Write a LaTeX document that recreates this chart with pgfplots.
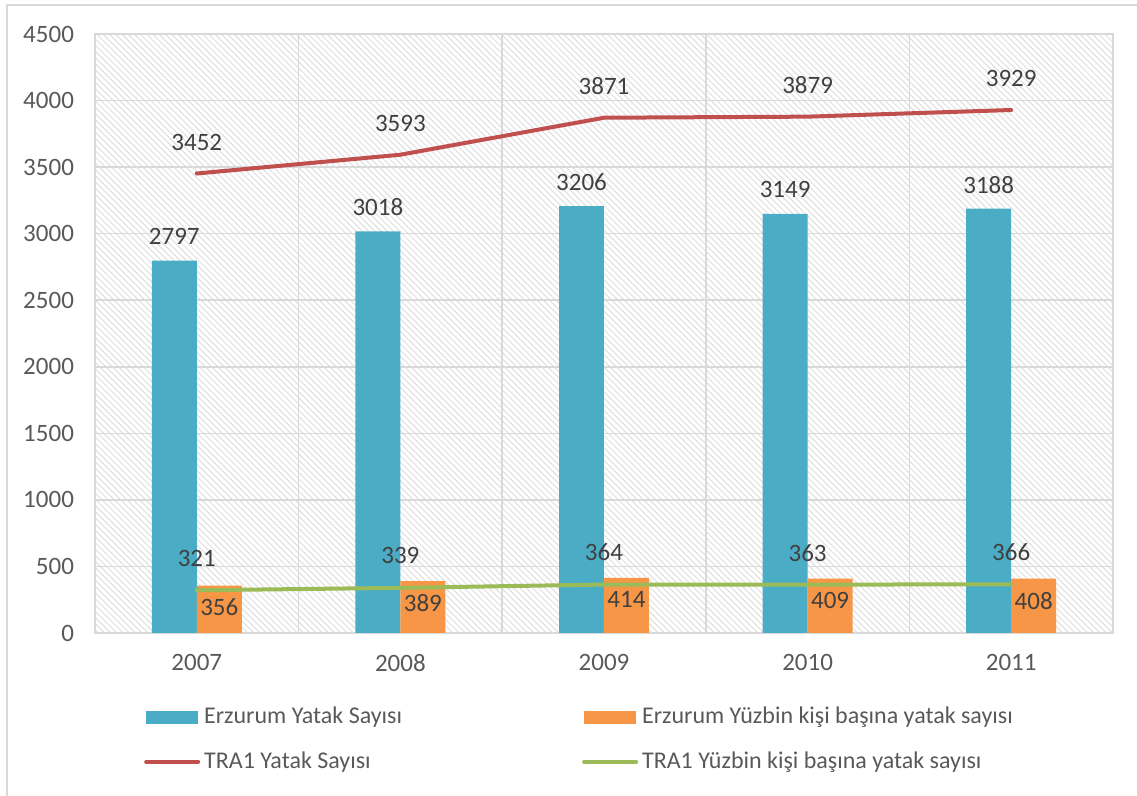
\documentclass[border=0pt]{standalone}
\usepackage{fontspec}
\setmainfont{Carlito}
\usepackage{pgfplots}
\pgfplotsset{compat=1.18}
\usetikzlibrary{patterns.meta}
\definecolor{barA}{HTML}{4BACC6}
\definecolor{barB}{HTML}{F79646}
\definecolor{lineR}{HTML}{C0504D}
\definecolor{lineG}{HTML}{9BBB59}
\definecolor{gridc}{HTML}{D9D9D9}
\definecolor{tickc}{HTML}{595959}
\definecolor{labc}{HTML}{404040}
\pgfkeys{/pgf/number format/.cd, 1000 sep={}, assume math mode=true}
\begin{document}
\begin{tikzpicture}
\useasboundingbox (0,0) rectangle (568.5pt,398pt);
\draw[gridc, line width=1pt] (3.5pt,0pt) -- (3.5pt,395.5pt) -- (568.5pt,395.5pt);
\begin{axis}[
  at={(47.5pt,81.5pt)}, anchor=south west,
  scale only axis, width=509pt, height=299.5pt,
  xmin=-0.5, xmax=4.5, ymin=0, ymax=4500,
  xtick={0,1,2,3,4}, xticklabels={2007,2008,2009,2010,2011},
  x tick style={draw=none},
  extra x ticks={-0.5,0.5,1.5,2.5,3.5,4.5}, extra x tick labels={},
  extra x tick style={grid=major, major tick length=4pt, tick align=outside, tick style={draw=gridc, line width=0.75pt}},
  ytick={0,500,...,4500}, ymajorgrids,
  y tick style={draw=none},
  grid style={gridc, line width=0.75pt},
  axis line style={gridc, line width=0.75pt},
  tick label style={font=\fontsize{12.5}{15}\selectfont, color=tickc},
  yticklabel style={xshift=-7pt},
  xticklabel style={yshift=-7pt},
  axis background/.style={pattern={Lines[angle=-45,distance=2.2pt,line width=0.5pt]}, pattern color=black!13},
  legend columns=2,
  legend cell align=left,
  legend style={at={(axis description cs:0.042,-0.110)}, anchor=north west, draw=none, fill=none,
    font=\fontsize{12}{14}\selectfont, text=tickc, row sep=8.5pt,
    /tikz/column 2/.style={column sep=88pt}},
  every node near coord/.append style={font=\fontsize{12.5}{15}\selectfont, color=labc, anchor=center},
]
\addplot[ybar, bar width=0.221, bar shift=-0.1105, fill=barA, draw=none,
  nodes near coords, every node near coord/.append style={yshift=12pt, xshift=-11.25pt},
  legend image code/.code={\fill[barA] (0pt,-3.25pt) rectangle (26pt,3.25pt);}]
  coordinates {(0,2797) (1,3018) (2,3206) (3,3149) (4,3188)};
\addlegendentry{Erzurum Yatak Sayısı}
\addplot[ybar, bar width=0.221, bar shift=0.1105, fill=barB, draw=none,
  nodes near coords, every node near coord/.append style={yshift=-11pt, xshift=11.25pt},
  legend image code/.code={\fill[barB] (0pt,-3.25pt) rectangle (26pt,3.25pt);}]
  coordinates {(0,356) (1,389) (2,414) (3,409) (4,408)};
\addlegendentry{Erzurum Yüzbin kişi başına yatak sayısı}
\addplot[sharp plot, no marks, color=lineR, line width=2pt, line cap=round,
  nodes near coords, every node near coord/.append style={yshift=15.75pt},
  legend image code/.code={\draw[lineR, line width=2pt, line cap=round] (0pt,0pt) -- (26pt,0pt);}]
  coordinates {(0,3452) (1,3593) (2,3871) (3,3879) (4,3929)};
\addlegendentry{TRA1 Yatak Sayısı}
\addplot[sharp plot, no marks, color=lineG, line width=2pt, line cap=round,
  nodes near coords, every node near coord/.append style={yshift=16pt},
  legend image code/.code={\draw[lineG, line width=2pt, line cap=round] (0pt,0pt) -- (26pt,0pt);}]
  coordinates {(0,321) (1,339) (2,364) (3,363) (4,366)};
\addlegendentry{TRA1 Yüzbin kişi başına yatak sayısı}
\end{axis}
\end{tikzpicture}
\end{document}
